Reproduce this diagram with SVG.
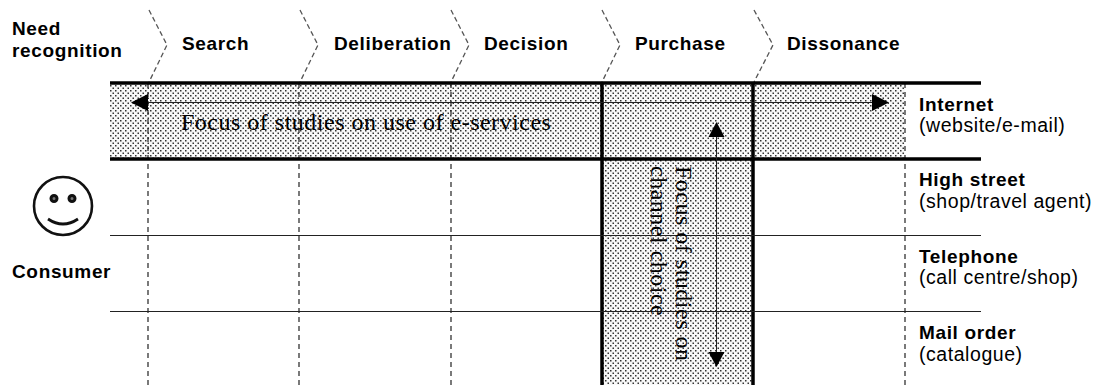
<svg xmlns="http://www.w3.org/2000/svg" width="1097" height="385" viewBox="0 0 1097 385">
<style>
.b{font:bold 19px "Liberation Sans",Arial,sans-serif;fill:#000;letter-spacing:.65px}
.r{font:19.5px "Liberation Sans",Arial,sans-serif;fill:#000;letter-spacing:.55px}
.t{font:24px "Liberation Serif","Times New Roman",serif;fill:#000;letter-spacing:.5px}
.d{fill:none;stroke:#222;stroke-width:1.2;stroke-dasharray:5 4}
.c{fill:none;stroke:#555;stroke-width:1.3;stroke-dasharray:5 3}
.k{stroke:#000;stroke-width:3.5;fill:none}
.n{stroke:#222;stroke-width:1;fill:none}
</style>
<defs>
<pattern id="dots" width="5" height="5" patternUnits="userSpaceOnUse">
<rect width="5" height="5" fill="#f8f8f8"/>
<rect x="0" y="0" width="1.500" height="1.500" fill="#333"/>
<rect x="2.500" y="2.500" width="1.500" height="1.500" fill="#333"/>
</pattern>
</defs>
<g id="bands">
<rect x="110" y="84" width="795" height="75" fill="url(#dots)"/>
<rect x="603" y="159" width="150" height="226" fill="url(#dots)"/>
</g>
<g id="connectors">
<path class="c" d="M149 10L167 45L149 82"/>
<path class="c" d="M300 10L318 45L300 82"/>
<path class="c" d="M451 10L469 45L451 82"/>
<path class="c" d="M602 10L620 45L602 82"/>
<path class="c" d="M754 10L773 45L754 82"/>
<path class="d" d="M148 83V385M299 83V385M451 83V385M905 83V385"/>
<path class="k" d="M110 83H981M110 159H981"/>
<path class="k" d="M602 83V385M753 83V385"/>
<path class="n" d="M110 235.500H981M110 311.500H981"/>
<path class="n" d="M146 102.500H874"/>
<path d="M148 94V111L131 102.500Z" fill="#000"/>
<path d="M872 94V111L889 102.500Z" fill="#000"/>
<path class="n" d="M716.500 135V355"/>
<path d="M708.500 137H724.500L716.500 122Z" fill="#000"/>
<path d="M708.500 352H724.500L716.500 367Z" fill="#000"/>
</g>
<g id="consumer">
<circle cx="63" cy="206" r="29" fill="#fff" stroke="#111" stroke-width="2.6"/>
<circle cx="54" cy="198.500" r="3" fill="#777" stroke="#111" stroke-width="3"/>
<circle cx="72" cy="198.500" r="3" fill="#777" stroke="#111" stroke-width="3"/>
<path d="M48 219Q63 229 78 219" fill="none" stroke="#111" stroke-width="2.800"/>
<text class="b" x="12" y="278">Consumer</text>
</g>
<g id="stage-need"><text class="b" x="12" y="35">Need</text><text class="b" x="12" y="57">recognition</text></g>
<g id="stage-search"><text class="b" x="182" y="50">Search</text></g>
<g id="stage-deliberation"><text class="b" x="334" y="50">Deliberation</text></g>
<g id="stage-decision"><text class="b" x="484" y="50">Decision</text></g>
<g id="stage-purchase"><text class="b" x="635" y="50">Purchase</text></g>
<g id="stage-dissonance"><text class="b" x="787" y="50">Dissonance</text></g>
<g id="channel-internet"><text class="b" x="919" y="111">Internet</text><text class="r" x="919" y="132">(website/e-mail)</text></g>
<g id="channel-high-street"><text class="b" x="919" y="186">High street</text><text class="r" x="919" y="208">(shop/travel agent)</text></g>
<g id="channel-telephone"><text class="b" x="919" y="263">Telephone</text><text class="r" x="919" y="284">(call centre/shop)</text></g>
<g id="channel-mail-order"><text class="b" x="919" y="339">Mail order</text><text class="r" x="919" y="361">(catalogue)</text></g>
<g id="focus-labels">
<text class="t" x="181" y="130">Focus of studies on use of e-services</text>
<text class="t" transform="translate(676 166) rotate(90)">Focus of studies on</text>
<text class="t" transform="translate(651 166) rotate(90)">channel choice</text>
</g>
</svg>
